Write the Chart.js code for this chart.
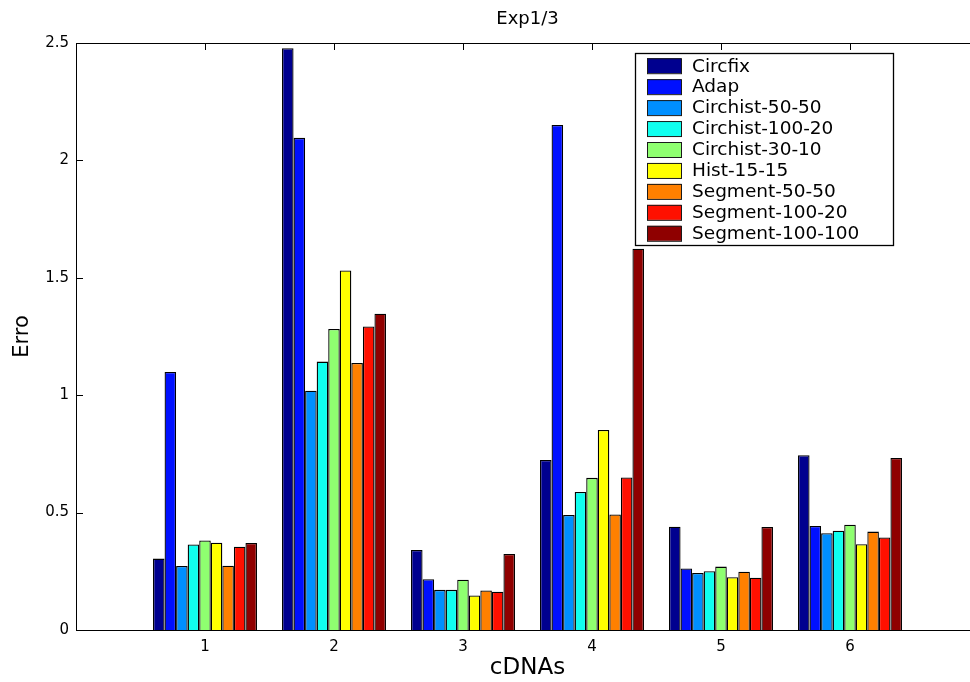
<!DOCTYPE html>
<html><head><meta charset="utf-8">
<script src="https://cdn.jsdelivr.net/npm/chart.js@4.4.1/dist/chart.umd.min.js"></script>
<style>
html,body{margin:0;padding:0;overflow:hidden;background:#fff;width:970px;height:682px}
#wrap{width:990px;height:682px}
</style></head>
<body><div id="wrap"><canvas id="c" width="990" height="682"></canvas></div>
<script>
// ---- data ----
const categories = ['1', '2', '3', '4', '5', '6'];
const seriesNames = ['Circfix', 'Adap', 'Circhist-50-50', 'Circhist-100-20', 'Circhist-30-10', 'Hist-15-15', 'Segment-50-50', 'Segment-100-20', 'Segment-100-100'];
const circfix         = [0.304, 2.478, 0.341, 0.724, 0.440, 0.744];
const adap            = [1.099, 2.096, 0.216, 2.151, 0.262, 0.443];
const circhist_50_50  = [0.273, 1.019, 0.171, 0.490, 0.243, 0.412];
const circhist_100_20 = [0.364, 1.143, 0.171, 0.588, 0.250, 0.423];
const circhist_30_10  = [0.381, 1.282, 0.214, 0.648, 0.270, 0.448];
const hist_15_15      = [0.372, 1.531, 0.147, 0.852, 0.225, 0.365];
const segment_50_50   = [0.274, 1.137, 0.168, 0.492, 0.248, 0.419];
const segment_100_20  = [0.355, 1.293, 0.163, 0.650, 0.223, 0.394];
const segment_100_100 = [0.371, 1.347, 0.324, 1.624, 0.439, 0.733];
const yTickValues = [0, 0.5, 1, 1.5, 2, 2.5];
const yTickLabels = ['0', '0.5', '1', '1.5', '2', '2.5'];
const titleText = 'Exp1/3';
const xTitle = 'cDNAs';
const yTitle = 'Erro';

// ---- styles ----
const seriesColors = ['#00008f', '#0010ff', '#008fff', '#10ffef', '#8fff70', '#ffff00', '#ff8000', '#ff1000', '#8f0000'];
const FONT = 'DejaVu Sans';
Chart.defaults.font.family = FONT;
Chart.defaults.color = '#000';

const seriesValues = [circfix, adap, circhist_50_50, circhist_100_20, circhist_30_10, hist_15_15, segment_50_50, segment_100_20, segment_100_100];
// pad with empty slots at both ends so the axis runs 0..7 like the original
const labels = ['', ...categories, ''];
const datasets = seriesNames.map((name, i) => ({
  label: name,
  data: [null, ...seriesValues[i], null],
  backgroundColor: seriesColors[i],
  borderColor: '#000',
  borderWidth: 1.3,
  borderSkipped: 'start',
  barPercentage: 1.0,
  categoryPercentage: 0.806
}));

const framePlugin = {
  id: 'frame',
  beforeDatasetsDraw(chart) {
    const ctx = chart.ctx, a = chart.chartArea;
    const x = chart.scales.x, y = chart.scales.y;
    ctx.save();
    ctx.strokeStyle = '#000';
    ctx.lineWidth = 1;
    ctx.beginPath();
    yTickValues.forEach(v => {
      const py = Math.round(y.getPixelForValue(v)) + 0.5;
      ctx.moveTo(a.left, py); ctx.lineTo(a.left + 7, py);
      ctx.moveTo(a.right, py); ctx.lineTo(a.right - 7, py);
    });
    categories.forEach((c, i) => {
      const px = Math.round(x.getPixelForValue(i + 1)) + 0.5;
      ctx.moveTo(px, a.bottom); ctx.lineTo(px, a.bottom - 7);
      ctx.moveTo(px, a.top); ctx.lineTo(px, a.top + 7);
    });
    ctx.stroke();
    ctx.restore();
  },
  afterDatasetsDraw(chart) {
    const ctx = chart.ctx, a = chart.chartArea;
    ctx.save();
    ctx.strokeStyle = '#000';
    ctx.lineWidth = 1;
    ctx.strokeRect(Math.round(a.left) + 0.5, Math.round(a.top) + 0.5, Math.round(a.right - a.left), Math.round(a.bottom - a.top));
    ctx.restore();
  },
  afterDraw(chart) {
    const ctx = chart.ctx;
    const bx = 635, by = 53, bw = 258, bh = 192;
    ctx.save();
    ctx.fillStyle = '#fff';
    ctx.fillRect(bx, by, bw, bh);
    ctx.strokeStyle = '#000';
    ctx.lineWidth = 1.3;
    ctx.strokeRect(bx + 0.5, by + 0.5, bw, bh);
    ctx.font = '18.5px ' + FONT;
    ctx.textBaseline = 'middle';
    ctx.textAlign = 'left';
    chart.data.datasets.forEach((ds, i) => {
      const cy = 65.7 + i * 20.95;
      ctx.fillStyle = ds.backgroundColor;
      ctx.fillRect(647, cy - 7.5, 34, 15);
      ctx.lineWidth = 1;
      ctx.strokeStyle = '#1a1a1a';
      ctx.strokeRect(647.5, cy - 7, 34, 15);
      ctx.fillStyle = '#000';
      ctx.fillText(ds.label, 692, cy + 1);
    });
    ctx.restore();
  }
};

new Chart(document.getElementById('c'), {
  type: 'bar',
  data: { labels, datasets },
  plugins: [framePlugin],
  options: {
    responsive: false,
    animation: false,
    layout: { padding: { left: 0, right: 11, top: 0, bottom: 0 } },
    plugins: {
      legend: { display: false },
      tooltip: { enabled: false },
      title: {
        display: true, text: titleText, fullSize: false,
        font: { family: FONT, size: 18, weight: 'normal' },
        color: '#000',
        padding: { top: 9, bottom: 12.4 }
      }
    },
    scales: {
      x: {
        type: 'category',
        offset: false,
        grid: { display: false, drawTicks: false, offset: false },
        border: { display: false },
        ticks: { autoSkip: false, maxRotation: 0, padding: 8, font: { size: 15 }, color: '#000' },
        title: { display: true, text: xTitle, font: { size: 23 }, color: '#000', padding: { top: 0, bottom: 0 } },
        afterFit(s) { s.height = 52; }
      },
      y: {
        min: 0, max: 2.5,
        grid: { display: false, drawTicks: false },
        border: { display: false },
        ticks: {
          stepSize: 0.5, padding: 7, font: { size: 15 }, color: '#000',
          callback(v) { const k = yTickValues.indexOf(v); return k >= 0 ? yTickLabels[k] : ''; }
        },
        title: { display: true, text: yTitle, font: { size: 21 }, color: '#000', padding: { top: 10, bottom: 0 } },
        afterFit(s) { s.width = 76; }
      }
    }
  }
});
</script>
</body></html>
